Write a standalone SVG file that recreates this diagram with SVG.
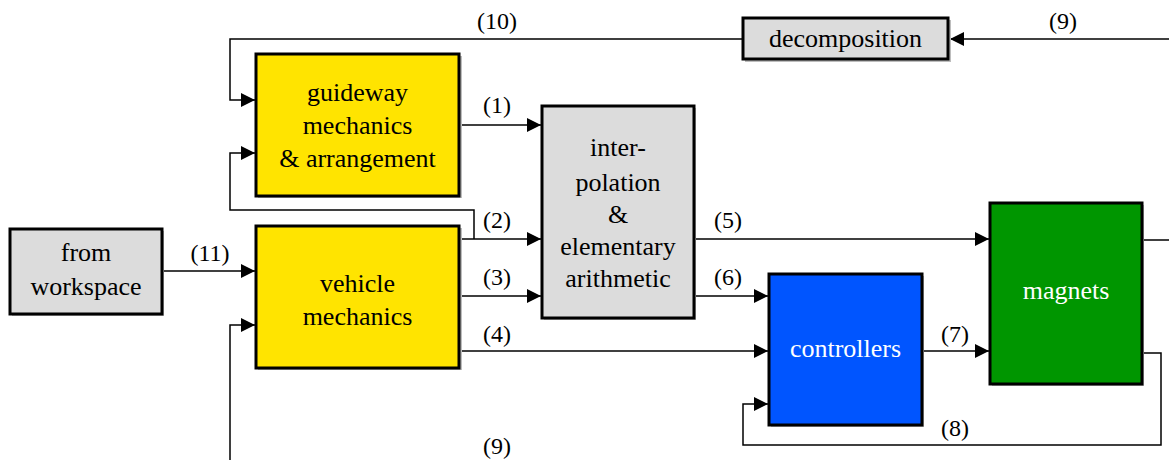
<svg xmlns="http://www.w3.org/2000/svg" width="1169" height="460" viewBox="0 0 1169 460">
<defs>
<marker id="ah" viewBox="0 0 10 10" refX="10" refY="5" markerWidth="14" markerHeight="14" markerUnits="userSpaceOnUse" orient="auto">
<path d="M0,0 L10,5 L0,10 z" fill="#000"/>
</marker>
</defs>
<style>
.box{stroke:#000;stroke-width:3}
.sh{fill:#bdbdbd}
.yel{fill:#FFE400}
.gry{fill:#DCDCDC}
.blu{fill:#0055FF}
.grn{fill:#009600}
.t{font-family:"Liberation Serif","DejaVu Serif",serif;font-size:26px;text-anchor:middle;fill:#000}
.w{fill:#fff}
.lbl{font-family:"Liberation Serif","DejaVu Serif",serif;font-size:24px;text-anchor:middle;fill:#000}
.c{fill:none;stroke:#000;stroke-width:1.5}
.a{marker-end:url(#ah)}
</style>
<rect width="1169" height="460" fill="#fff"/>
<g id="connectors">
<path class="c a" d="M743,39 H230 V100 H255"/>
<path class="c a" d="M1169,39 H950"/>
<path class="c a" d="M460,125 H541"/>
<path class="c a" d="M474,239 V210 H230 V153 H255"/>
<path class="c a" d="M460,239 H541"/>
<path class="c a" d="M460,296 H541"/>
<path class="c a" d="M460,351 H768"/>
<path class="c a" d="M162,271 H255"/>
<path class="c a" d="M230,460 V325 H255"/>
<path class="c a" d="M694,239 H989"/>
<path class="c" d="M1142,240 H1169"/>
<path class="c a" d="M694,296 H768"/>
<path class="c a" d="M922,351 H989"/>
<path class="c a" d="M1142,353 H1161 V445 H743 V404 H768"/>
</g>
<g id="labels" font-family="Liberation Serif, serif">
<text class="lbl" x="497" y="29">(10)</text>
<text class="lbl" x="1063" y="29">(9)</text>
<text class="lbl" x="497" y="113">(1)</text>
<text class="lbl" x="497" y="228">(2)</text>
<text class="lbl" x="497" y="285">(3)</text>
<text class="lbl" x="497" y="342">(4)</text>
<text class="lbl" x="210" y="261">(11)</text>
<text class="lbl" x="497" y="454">(9)</text>
<text class="lbl" x="728" y="228">(5)</text>
<text class="lbl" x="728" y="285">(6)</text>
<text class="lbl" x="955" y="342">(7)</text>
<text class="lbl" x="955" y="436">(8)</text>
</g>
<g id="decomposition">
<rect class="sh" x="745" y="20" width="206" height="42"/>
<rect class="box gry" x="743" y="18" width="205" height="41"/>
<text class="t" x="845.5" y="47">decomposition</text>
</g>
<g id="guideway">
<rect class="sh" x="258" y="56" width="204" height="142"/>
<rect class="box yel" x="256" y="54" width="203" height="142"/>
<text class="t" x="357.5" y="101">guideway</text>
<text class="t" x="357.5" y="134">mechanics</text>
<text class="t" x="357.5" y="167">&amp; arrangement</text>
</g>
<g id="interpolation">
<rect class="sh" x="544" y="108" width="152" height="212"/>
<rect class="box gry" x="542" y="106" width="152" height="212"/>
<text class="t" x="618" y="156">inter-</text>
<text class="t" x="618" y="191">polation</text>
<text class="t" x="618" y="223">&amp;</text>
<text class="t" x="618" y="255">elementary</text>
<text class="t" x="618" y="287">arithmetic</text>
</g>
<g id="workspace">
<rect class="sh" x="12" y="231" width="152" height="85"/>
<rect class="box gry" x="10" y="229" width="152" height="85"/>
<text class="t" x="86" y="261">from</text>
<text class="t" x="86" y="295">workspace</text>
</g>
<g id="vehicle">
<rect class="sh" x="258" y="228" width="204" height="142"/>
<rect class="box yel" x="256" y="226" width="203" height="142"/>
<text class="t" x="357.5" y="292">vehicle</text>
<text class="t" x="357.5" y="325">mechanics</text>
</g>
<g id="controllers">
<rect class="sh" x="771" y="276" width="153" height="151"/>
<rect class="box blu" x="769" y="274" width="153" height="151"/>
<text class="t w" x="845.5" y="357">controllers</text>
</g>
<g id="magnets">
<rect class="sh" x="992" y="205" width="152" height="181"/>
<rect class="box grn" x="990" y="203" width="152" height="181"/>
<text class="t w" x="1066" y="299">magnets</text>
</g>
</svg>
